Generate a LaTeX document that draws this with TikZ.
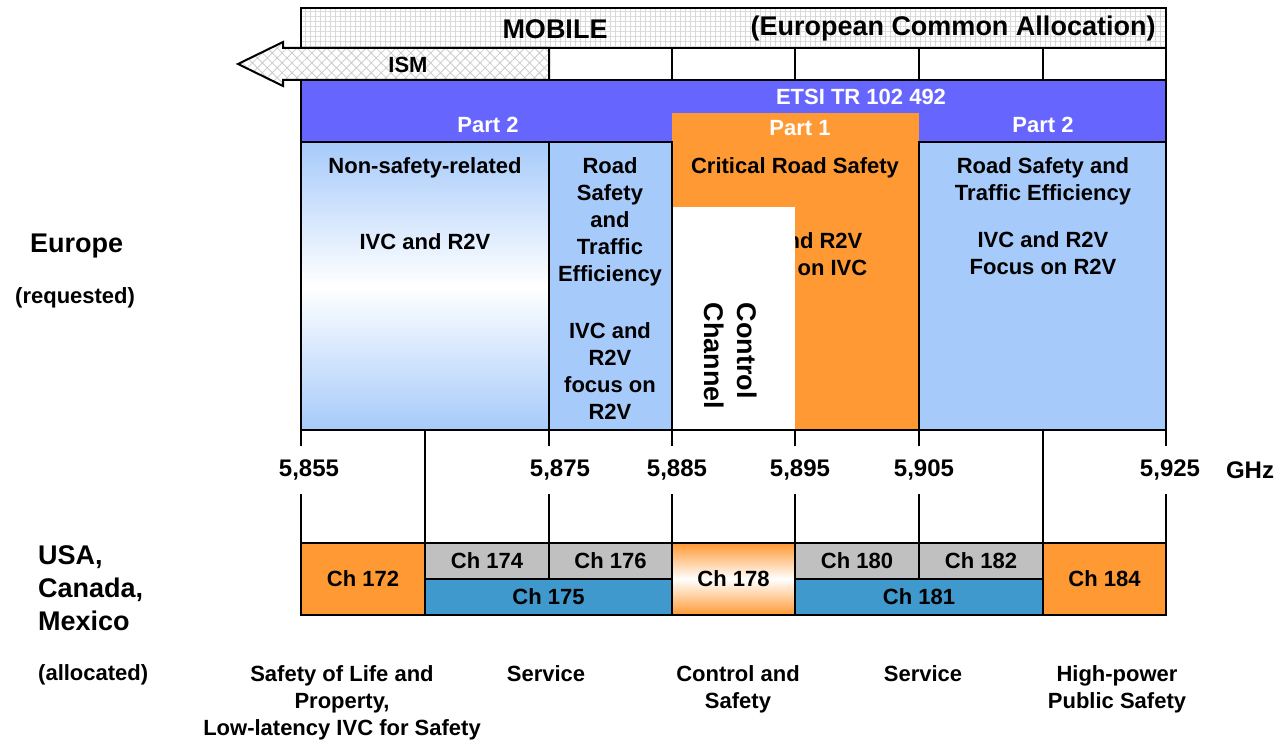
\documentclass[tikz,border=0pt]{standalone}
\usepackage{fontspec}
\setmainfont{Liberation Sans}
\usetikzlibrary{positioning, patterns.meta}

\definecolor{etsiblue}{HTML}{6666FF}
\definecolor{lightband}{HTML}{A6CAFA}
\definecolor{safetyorange}{HTML}{FF9933}
\definecolor{changray}{HTML}{C0C0C0}
\definecolor{chanblue}{HTML}{4099CC}

\begin{document}
\begin{tikzpicture}[
		x=1pt, y=-1pt,
		% Text styles
		txt/.style={font=\bfseries\fontsize{22}{27}\selectfont, align=center, inner sep=0pt, anchor=north},
		white txt/.style={txt, text=white},
		big txt/.style={txt, font=\bfseries\fontsize{27}{33}\selectfont},
		region/.style={big txt, align=left, anchor=north west},
		freq/.style={txt, anchor=center, font=\bfseries\fontsize{24}{28}\selectfont, inner ysep=14pt},
		% Style for the band outlines
		band/.style={draw=black, line width=2pt},
		tick/.style={black, line width=2pt},
		% Style for the channel boxes
		chan/.style={draw=black, line width=1.5pt, font=\bfseries\fontsize{22}{27}\selectfont, inner sep=0pt, minimum height=36pt},
		wide chan/.style={chan, minimum height=72pt},
		% Shaded fills
		fade blue/.style={top color=lightband, bottom color=lightband, middle color=white},
		fade orange/.style={top color=safetyorange, bottom color=safetyorange, middle color=white}
	]
	\useasboundingbox (0,0) rectangle (1277,741);

	% MOBILE allocation bar
	\fill[white] (301,8) rectangle (1166,48);
	\fill[pattern={Hatch[angle=0, distance=5pt, line width=0.8pt]}, pattern color=gray!30] (301,8) rectangle (1166,48);
	\draw[band] (301,8) rectangle (1166,48);
	\node[big txt, anchor=center] (mobile) at (555,29) {MOBILE};
	\node[big txt, anchor=center] (eca) at (953,29) {(European Common Allocation)};

	% ISM arrow and empty cells
	\draw[band] (549,48) rectangle (1166,80);
	\foreach \x in {672,795,919,1043}
		\draw[band] (\x,48) -- (\x,80);
	\fill[white] (238,64) -- (283,42) -- (283,48) -- (549,48) -- (549,80) -- (283,80) -- (283,86) -- cycle;
	\fill[pattern={Hatch[angle=45, distance=7pt, line width=0.8pt]}, pattern color=gray!40]
		(238,64) -- (283,42) -- (283,48) -- (549,48) -- (549,80) -- (283,80) -- (283,86) -- cycle;
	\draw[band, line join=miter] (238,64) -- (283,42) -- (283,48) -- (549,48) -- (549,80) -- (283,80) -- (283,86) -- cycle;
	\node[txt, anchor=center] (ism) at (408,65) {ISM};

	% ETSI TR 102 492 band
	\fill[etsiblue] (301,80) rectangle (1166,142);
	\draw[band] (301,142) -- (301,80) -- (1166,80) -- (1166,142);
	\node[white txt] (etsi) at (861,89) {ETSI TR 102 492};
	\node[white txt] (part2l) at (488,117) {Part 2};
	\node[white txt] (part2r) at (1043,117) {Part 2};

	% Europe: frequency blocks
	\fill[safetyorange] (672,113) rectangle (919,430);
	\shade[fade blue] (301,142) rectangle (549,430);
	\fill[lightband] (549,142) rectangle (672,430);
	\fill[lightband] (919,142) rectangle (1166,430);
	\node[white txt] (part1) at (800,120) {Part 1};
	\node[txt] (crs) at (795,157) {Critical Road Safety};
	\node[txt] (crsivc) at (797,232) {IVC and R2V\\Focus on IVC};

	% Control channel overlay
	\fill[white] (672,207) rectangle (795,430);
	\node[big txt, anchor=center, align=left, rotate=-90] (cch) at (731,356) {Control\\Channel};

	\draw[band] (301,142) rectangle (549,430);
	\draw[band] (549,142) rectangle (672,430);
	\draw[band] (919,142) rectangle (1166,430);
	\draw[band] (672,430) -- (919,430);

	\node[txt] (nsr) at (425,157) {Non-safety-related};
	\node[txt] (nsrivc) at (425,233) {IVC and R2V};
	\node[txt] (rste) at (610,157) {Road\\Safety\\and\\Traffic\\Efficiency};
	\node[txt] (rsteivc) at (610,322) {IVC and\\R2V\\focus on\\R2V};
	\node[txt] (rster) at (1043,157) {Road Safety and\\Traffic Efficiency};
	\node[txt] (rsterivc) at (1043,231) {IVC and R2V\\Focus on R2V};

	% Frequency axis
	\foreach \x/\lx/\f in {301/309/855, 549/560/875, 672/677/885, 795/800/895, 919/924/905, 1166/1170/925} {
		\node[freq] (f\f) at (\lx,470) {5,\f};
		\draw[tick] (\x,430) -- (\x,0 |- f\f.north);
		\draw[tick] (\x,0 |- f\f.south) -- (\x,543);
	}
	\foreach \x in {425,1043}
		\draw[tick] (\x,430) -- (\x,543);
	\node[freq] (ghz) at (1250,470) {GHz};

	% USA channels
	\node[wide chan, fill=safetyorange, minimum width=124pt] (ch172) at (363,579) {Ch 172};
	\node[chan, fill=changray, minimum width=124pt] (ch174) at (487,561) {Ch 174};
	\node[chan, fill=changray, minimum width=123pt] (ch176) at (610.5,561) {Ch 176};
	\node[chan, fill=chanblue, minimum width=247pt] (ch175) at (548.5,597) {Ch 175};
	\node[wide chan, fade orange, minimum width=123pt] (ch178) at (733.5,579) {Ch 178};
	\node[chan, fill=changray, minimum width=124pt] (ch180) at (857,561) {Ch 180};
	\node[chan, fill=changray, minimum width=124pt] (ch182) at (981,561) {Ch 182};
	\node[chan, fill=chanblue, minimum width=248pt] (ch181) at (919,597) {Ch 181};
	\node[wide chan, fill=safetyorange, minimum width=123pt] (ch184) at (1104.5,579) {Ch 184};

	% Region labels
	\node[region] (europe) at (30,234) {Europe};
	\node[txt, anchor=north west] (requested) at (15,287) {(requested)};
	\node[region] (usa) at (38,545) {USA,\\Canada,\\Mexico};
	\node[txt, anchor=north west] (allocated) at (38,664) {(allocated)};

	% Usage of the channels
	\node[txt] (use1) at (342,665) {Safety of Life and\\Property,\\Low-latency IVC for Safety};
	\node[txt] (use2) at (546,665) {Service};
	\node[txt] (use3) at (738,665) {Control and\\Safety};
	\node[txt] (use4) at (923,665) {Service};
	\node[txt] (use5) at (1117,665) {High-power\\Public Safety};
\end{tikzpicture}
\end{document}
